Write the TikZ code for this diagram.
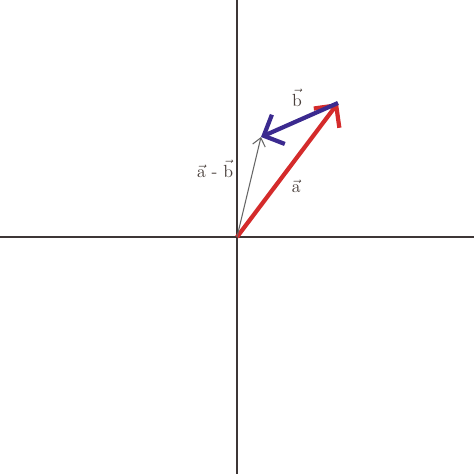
\documentclass[tikz,border=0pt]{standalone}
\usepackage{tikz}
\usetikzlibrary{arrows.meta}
\definecolor{vecred}{HTML}{D42B2B}
\definecolor{vecblue}{HTML}{3B2A8F}
\definecolor{axisgray}{HTML}{3D3636}
\definecolor{labelgray}{HTML}{4A403C}

\begin{document}
\begin{tikzpicture}[x=0.02cm, y=0.02cm, axis/.style = {draw=axisgray, line width=1.1pt}, vec/.style = {line width=2.4pt, -{Straight Barb[length=3.2mm, width=6.4mm]}}, lbl/.style = {text=labelgray, inner sep=1pt}] 
			\useasboundingbox (-237,-237) rectangle (237,237);
			\coordinate (W) at (-237,0);
			\coordinate (E) at (237,0);
			\coordinate (S) at (0,-237);
			\coordinate (N) at (0,237);
			\coordinate (O) at (0,0);
			\coordinate (A) at (101,134);
			\coordinate (B) at (24,100);
			\draw[axis] (W) -- (E);
			\draw[axis] (S) -- (N);
			\draw[vec, vecred] (O) -- (A);
			\draw[vec, vecblue] (A) -- (B);
			\draw[draw=gray!80!black, line width=0.6pt, -{Straight Barb[length=1.6mm, width=2.6mm]}] (O) -- (B);
			\node[lbl] (b) at (60,139) {$\vec{\mathrm{b}}$};
			\node[lbl] (a) at (59,51) {$\vec{\mathrm{a}}$};
			\node[lbl] (ab) at (-22,68) {$\vec{\mathrm{a}}$ - $\vec{\mathrm{b}}$};
		\end{tikzpicture}
\end{document}
